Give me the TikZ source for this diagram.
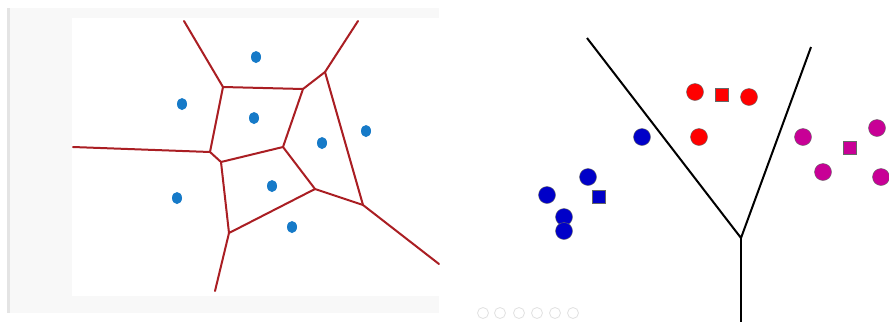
\documentclass[tikz,border=0pt]{standalone}
\usetikzlibrary{shapes.geometric}
\definecolor{vred}{RGB}{170,30,35}
\definecolor{dotblue}{RGB}{22,122,200}
\definecolor{cblue}{RGB}{0,0,200}
\definecolor{cmag}{RGB}{200,0,150}
\definecolor{panelgray}{RGB}{248,248,248}
\definecolor{edgegray}{RGB}{228,228,228}
\definecolor{icongray}{RGB}{225,225,225}
\begin{document}
\begin{tikzpicture}[x=1pt,y=-1pt,
  vedge/.style={draw=vred,line width=2pt,line cap=round,line join=round},
  seed/.style={ellipse,fill=dotblue,minimum width=10pt,minimum height=12pt,inner sep=0pt},
  kline/.style={draw=black,line width=2pt},
  pt/.style={circle,draw=black!60,line width=0.4pt,minimum size=17pt,inner sep=0pt},
  sq/.style={rectangle,draw=black!60,line width=0.4pt,minimum size=13pt,inner sep=0pt},
  ic/.style={circle,draw=icongray,line width=0.8pt,minimum size=11pt,inner sep=0pt}]
\useasboundingbox (0,0) rectangle (889,322);
\fill[white] (0,0) rectangle (889,322);
% left panel background
\fill[panelgray] (7,8) rectangle (439,313);
\fill[edgegray] (7,8) rectangle (9.5,313);
\fill[white] (72,18) rectangle (439,296);
% Voronoi vertices
\coordinate (A) at (184,21);
\coordinate (B) at (223,87);
\coordinate (C) at (303,89);
\coordinate (D) at (325,72);
\coordinate (E) at (358,21);
\coordinate (F) at (210,152);
\coordinate (G) at (73,147);
\coordinate (H) at (221,162);
\coordinate (I) at (283,147);
\coordinate (J) at (315,189);
\coordinate (K) at (363,205);
\coordinate (L) at (229,233);
\coordinate (M) at (215,291);
\coordinate (N) at (439,264);
\draw[vedge] (A) -- (B);
\draw[vedge] (B) -- (C);
\draw[vedge] (C) -- (D);
\draw[vedge] (D) -- (E);
\draw[vedge] (B) -- (F);
\draw[vedge] (G) -- (F);
\draw[vedge] (F) -- (H);
\draw[vedge] (H) -- (I);
\draw[vedge] (I) -- (C);
\draw[vedge] (D) -- (K);
\draw[vedge] (I) -- (J);
\draw[vedge] (J) -- (K);
\draw[vedge] (K) -- (N);
\draw[vedge] (H) -- (L);
\draw[vedge] (L) -- (J);
\draw[vedge] (L) -- (M);
% seeds
\node[seed] (s1) at (256,57) {};
\node[seed] (s2) at (182,104) {};
\node[seed] (s3) at (254,118) {};
\node[seed] (s4) at (366,131) {};
\node[seed] (s5) at (322,143) {};
\node[seed] (s6) at (272,186) {};
\node[seed] (s7) at (177,198) {};
\node[seed] (s8) at (292,227) {};
% right panel: boundaries
\coordinate (P1) at (587,38);
\coordinate (V) at (741,238);
\coordinate (P2) at (811,47);
\coordinate (P3) at (741,322);
\draw[kline] (P1) -- (V) -- (P2);
\draw[kline] (V) -- (P3);
% red class
\node[pt,fill=red] (r1) at (695,92) {};
\node[pt,fill=red] (r2) at (749,97) {};
\node[pt,fill=red] (r3) at (699,137) {};
\node[sq,fill=red] (rq) at (722,95) {};
% blue class
\node[pt,fill=cblue] (b1) at (642,137) {};
\node[pt,fill=cblue] (b2) at (588,177) {};
\node[pt,fill=cblue] (b3) at (547,195) {};
\node[pt,fill=cblue] (b4) at (564,217) {};
\node[pt,fill=cblue] (b5) at (564,231) {};
\node[sq,fill=cblue] (bq) at (599,197) {};
% magenta class
\node[pt,fill=cmag] (m1) at (803,137) {};
\node[pt,fill=cmag] (m2) at (877,128) {};
\node[pt,fill=cmag] (m3) at (823,172) {};
\node[pt,fill=cmag] (m4) at (881,177) {};
\node[sq,fill=cmag] (mq) at (850,148) {};
% faint toolbar icons
\node[ic] (i1) at (483,313) {};
\node[ic] (i2) at (500,313) {};
\node[ic] (i3) at (519,313) {};
\node[ic] (i4) at (537,313) {};
\node[ic] (i5) at (555,313) {};
\node[ic] (i6) at (573,313) {};
\end{tikzpicture}
\end{document}
